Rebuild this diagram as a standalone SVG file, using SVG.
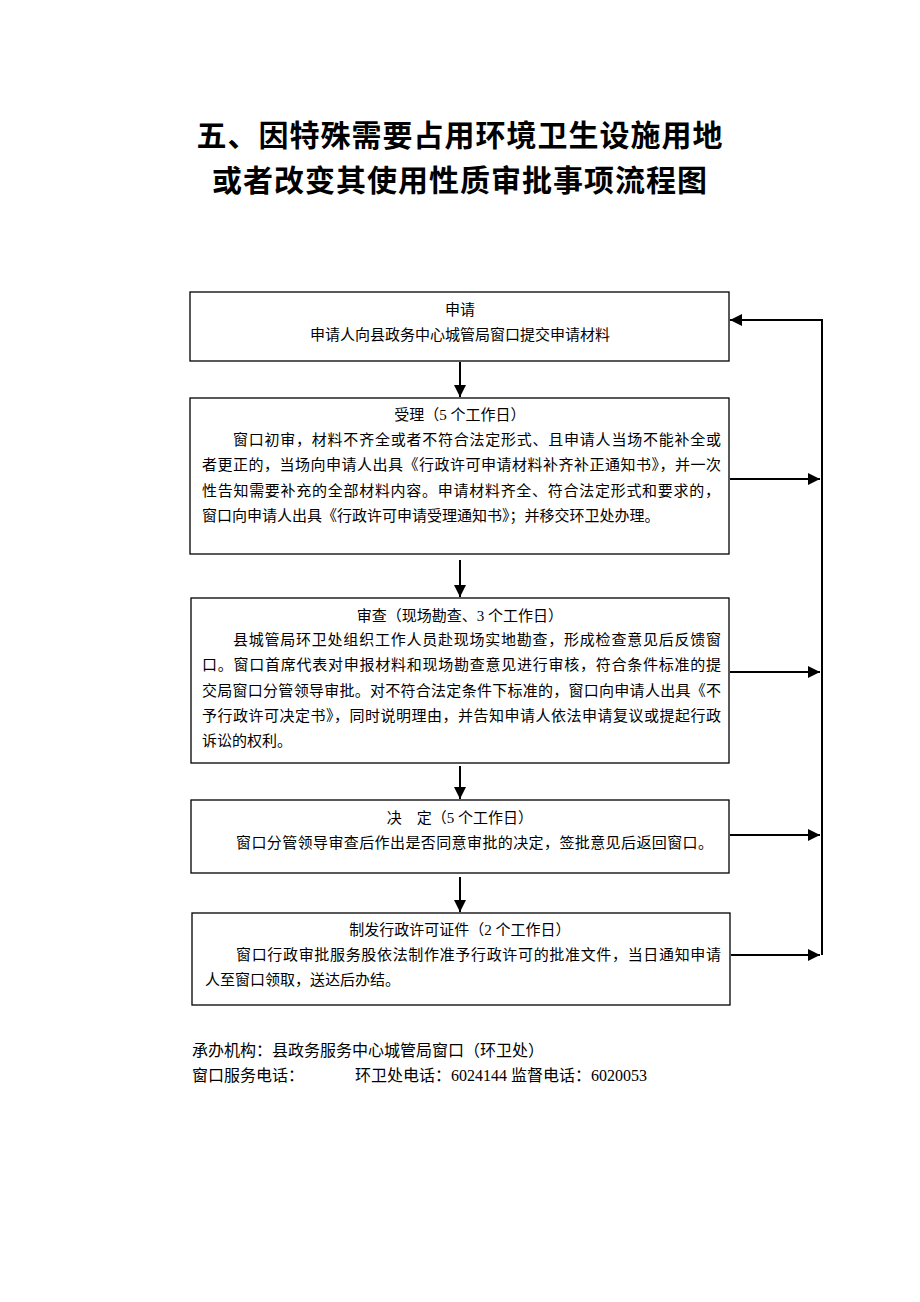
<svg xmlns="http://www.w3.org/2000/svg" width="920" height="1302" viewBox="0 0 920 1302">
<style>
.box{fill:#fff;stroke:#000;stroke-width:1.3}
.t{font-family:"Liberation Serif","Noto Sans CJK SC",serif;font-size:15px;fill:#000}
.f{font-size:16px}
.c{text-anchor:middle}
.title{font-family:"Liberation Sans","Noto Sans CJK SC",sans-serif;font-size:30px;font-weight:bold;text-anchor:middle;letter-spacing:1px}
.ln{stroke:#000;stroke-width:2;fill:none}
</style>
<defs>
<marker id="ah" viewBox="0 0 10 10" refX="10" refY="5" markerWidth="6" markerHeight="6" markerUnits="strokeWidth" orient="auto">
<path d="M0,0 L10,5 L0,10 z" fill="#000"/>
</marker>
</defs>
<rect width="920" height="1302" fill="#fff"/>
<g id="title">
<text class="title" x="460" y="146">五、因特殊需要占用环境卫生设施用地</text>
<text class="title" x="460" y="191">或者改变其使用性质审批事项流程图</text>
</g>
<g id="n1">
<rect class="box" x="190" y="292" width="539" height="69"/>
<text class="t c" x="460" y="315">申请</text>
<text class="t c" x="460" y="340">申请人向县政务中心城管局窗口提交申请材料</text>
</g>
<g id="n2">
<rect class="box" x="190" y="398" width="539" height="156"/>
<text class="t c" x="460" y="420">受理（5 个工作日）</text>
<text class="t" x="233" y="445" textLength="488" lengthAdjust="spacing">窗口初审，材料不齐全或者不符合法定形式、且申请人当场不能补全或</text>
<text class="t" x="202" y="470" textLength="519" lengthAdjust="spacing">者更正的，当场向申请人出具《行政许可申请材料补齐补正通知书》，并一次</text>
<text class="t" x="202" y="496" textLength="518" lengthAdjust="spacing">性告知需要补充的全部材料内容。申请材料齐全、符合法定形式和要求的，</text>
<text class="t" x="202" y="521">窗口向申请人出具《行政许可申请受理通知书》；并移交环卫处办理。</text>
</g>
<g id="n3">
<rect class="box" x="191" y="598" width="538" height="165"/>
<text class="t c" x="460" y="621">审查（现场勘查、3 个工作日）</text>
<text class="t" x="233" y="645" textLength="488" lengthAdjust="spacing">县城管局环卫处组织工作人员赴现场实地勘查，形成检查意见后反馈窗</text>
<text class="t" x="202" y="670" textLength="519" lengthAdjust="spacing">口。窗口首席代表对申报材料和现场勘查意见进行审核，符合条件标准的提</text>
<text class="t" x="202" y="696" textLength="519" lengthAdjust="spacing">交局窗口分管领导审批。对不符合法定条件下标准的，窗口向申请人出具《不</text>
<text class="t" x="202" y="721" textLength="519" lengthAdjust="spacing">予行政许可决定书》，同时说明理由，并告知申请人依法申请复议或提起行政</text>
<text class="t" x="202" y="746">诉讼的权利。</text>
</g>
<g id="n4">
<rect class="box" x="191" y="800" width="538" height="73"/>
<text class="t c" x="460" y="823">决　定（5 个工作日）</text>
<text class="t" x="236" y="848" textLength="477" lengthAdjust="spacing">窗口分管领导审查后作出是否同意审批的决定，签批意见后返回窗口。</text>
</g>
<g id="n5">
<rect class="box" x="192" y="913" width="538" height="92"/>
<text class="t c" x="460" y="935">制发行政许可证件（2 个工作日）</text>
<text class="t" x="236" y="960" textLength="485" lengthAdjust="spacing">窗口行政审批服务股依法制作准予行政许可的批准文件，当日通知申请</text>
<text class="t" x="205" y="985">人至窗口领取，送达后办结。</text>
</g>
<g id="connectors">
<line class="ln" x1="460" y1="362" x2="460" y2="397" marker-end="url(#ah)"/>
<line class="ln" x1="460" y1="560" x2="460" y2="597" marker-end="url(#ah)"/>
<line class="ln" x1="460" y1="766" x2="460" y2="799" marker-end="url(#ah)"/>
<line class="ln" x1="460" y1="877" x2="460" y2="912" marker-end="url(#ah)"/>
<line class="ln" x1="730" y1="479" x2="820" y2="479" marker-end="url(#ah)"/>
<line class="ln" x1="730" y1="672" x2="820" y2="672" marker-end="url(#ah)"/>
<line class="ln" x1="730" y1="835" x2="820" y2="835" marker-end="url(#ah)"/>
<line class="ln" x1="731" y1="955" x2="820" y2="955" marker-end="url(#ah)"/>
<polyline class="ln" points="822,955 822,320 730,320" marker-end="url(#ah)"/>
</g>
<g id="footer">
<text class="t f" x="192" y="1056">承办机构：县政务服务中心城管局窗口（环卫处）</text>
<text class="t f" x="192" y="1081">窗口服务电话：</text>
<text class="t f" x="355" y="1081">环卫处电话：6024144 监督电话：6020053</text>
</g>
</svg>
